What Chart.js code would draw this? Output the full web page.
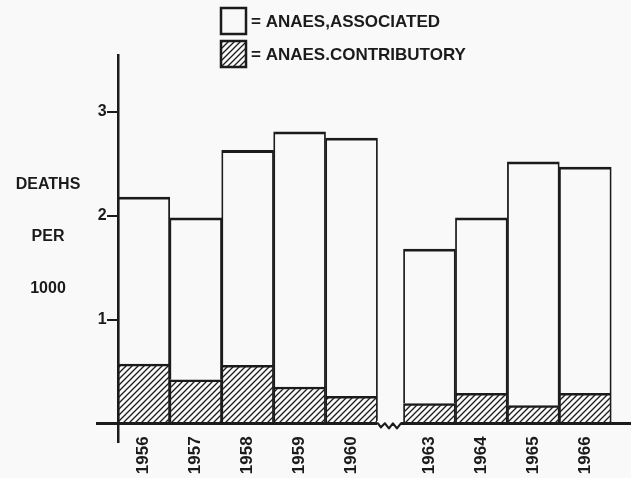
<!DOCTYPE html>
<html><head><meta charset="utf-8">
<script src="https://cdn.jsdelivr.net/npm/chart.js@4/dist/chart.umd.min.js"></script>
<style>html,body{margin:0;padding:0;background:#f9f9f9;}canvas{display:block}</style>
</head><body>
<canvas id="c" width="631" height="478"></canvas>
<script>
// ---- data ----
const years = [1956, 1957, 1958, 1959, 1960, 1963, 1964, 1965, 1966];
const contributory = [0.57, 0.42, 0.56, 0.35, 0.26, 0.19, 0.29, 0.17, 0.29];
const associated   = [1.61, 1.56, 2.07, 2.46, 2.49, 1.49, 1.69, 2.35, 2.18];
const yTicks = [1, 2, 3];
const yTitleLines = ['DEATHS', 'PER', '1000'];
const legendLabels = ['= ANAES,ASSOCIATED', '= ANAES.CONTRIBUTORY'];
const lastBeforeBreak = 1960, firstAfterBreak = 1963;

// ---- styling ----
const INK = '#1b1b1b', BG = '#f9f9f9';
const FONT = '"Liberation Sans", Arial, sans-serif';
// broken axis: the missing years are compressed to half a slot
const BREAK_SQUEEZE = (firstAfterBreak - lastBeforeBreak - 1) - 0.5;
const xOf = y => (y - years[0]) - (y > lastBeforeBreak ? BREAK_SQUEEZE : 0);

const canvas = document.getElementById('c');
const ctx = canvas.getContext('2d');

function hatchPattern() {
  const s = 6, c = document.createElement('canvas');
  c.width = s; c.height = s;
  const g = c.getContext('2d');
  g.fillStyle = BG; g.fillRect(0, 0, s, s);
  g.strokeStyle = INK; g.lineWidth = 1.3; g.lineCap = 'square';
  g.beginPath();
  g.moveTo(0, s); g.lineTo(s, 0);
  g.moveTo(-1, 1); g.lineTo(1, -1);
  g.moveTo(s - 1, s + 1); g.lineTo(s + 1, s - 1);
  g.stroke();
  return ctx.createPattern(c, 'repeat');
}
const HATCH = hatchPattern();

const yTitlePlugin = {
  id: 'yTitle',
  afterDraw(chart) {
    const y = chart.scales.y, c = chart.ctx;
    const at = [2.3, 1.8, 1.3];
    c.save();
    c.fillStyle = INK; c.font = 'bold 16px ' + FONT;
    c.textAlign = 'center'; c.textBaseline = 'middle';
    yTitleLines.forEach((t, i) => c.fillText(t, 48, y.getPixelForValue(at[i])));
    c.restore();
  }
};

const legendPlugin = {
  id: 'boxLegend',
  afterDraw(chart) {
    const c = chart.ctx;
    const fills = [chart.data.datasets[1].backgroundColor, chart.data.datasets[0].backgroundColor];
    const x0 = 221, tops = [8, 41], w = 25, h = 26;
    c.save();
    legendLabels.forEach((t, i) => {
      c.fillStyle = fills[i];
      c.fillRect(x0, tops[i], w, h);
      c.strokeStyle = INK; c.lineWidth = 2.5;
      c.strokeRect(x0, tops[i], w, h);
      c.fillStyle = INK; c.font = 'bold 17px ' + FONT;
      c.textAlign = 'left'; c.textBaseline = 'middle';
      c.fillText(t, x0 + w + 5, tops[i] + h / 2 + 1);
    });
    c.restore();
  }
};

const breakPlugin = {
  id: 'axisBreak',
  afterDraw(chart) {
    const xs = chart.scales.x, ys = chart.scales.y, c = chart.ctx;
    const cx = xs.getPixelForValue((xOf(lastBeforeBreak) + xOf(firstAfterBreak)) / 2 - 0.03);
    const y0 = ys.getPixelForValue(0);
    c.save();
    c.fillStyle = BG;
    c.fillRect(cx - 12, y0 - 2.5, 24, 5);
    c.strokeStyle = INK; c.lineWidth = 2.2; c.lineJoin = 'round';
    const pts = [[-16, 0], [-11, 0], [-8, 4], [-4, 0], [0, 5], [4, 0], [8, 5], [12, 0], [16, 0]];
    c.beginPath();
    pts.forEach((p, i) => i ? c.lineTo(cx + p[0], y0 + p[1]) : c.moveTo(cx + p[0], y0 + p[1]));
    c.stroke();
    c.restore();
  }
};

new Chart(ctx, {
  type: 'bar',
  data: {
    datasets: [
      {
        label: legendLabels[1],
        data: years.map((yr, i) => ({ x: xOf(yr), y: contributory[i] })),
        backgroundColor: HATCH, borderColor: INK,
        borderWidth: { top: 2.5, left: 1.8, right: 1.8, bottom: 0 },
        borderSkipped: false, barPercentage: 1, categoryPercentage: 1
      },
      {
        label: legendLabels[0],
        data: years.map((yr, i) => ({ x: xOf(yr), y: associated[i] })),
        backgroundColor: BG, borderColor: INK,
        borderWidth: { top: 2.8, left: 1.8, right: 1.8, bottom: 0 },
        borderSkipped: false, barPercentage: 1, categoryPercentage: 1
      }
    ]
  },
  options: {
    responsive: false, animation: false, devicePixelRatio: 1,
    layout: { padding: { left: 97, right: 0, top: 55, bottom: 36 } },
    plugins: { legend: { display: false }, tooltip: { enabled: false } },
    scales: {
      x: {
        type: 'linear', stacked: true, offset: false,
        min: -0.9, max: 9.38,
        position: { y: 0 },
        afterBuildTicks: s => { s.ticks = years.map(yr => ({ value: xOf(yr) })); },
        ticks: {
          autoSkip: false, minRotation: 90, maxRotation: 90, padding: 13,
          color: INK, font: { family: FONT, size: 17, weight: 'bold' },
          callback: (v, i) => String(years[i])
        },
        grid: { drawOnChartArea: false, drawTicks: false, offset: false },
        border: { color: INK, width: 3, z: 1 }
      },
      y: {
        stacked: true, min: -0.18, max: 3.55,
        position: { x: -0.5 },
        afterBuildTicks: s => { s.ticks = yTicks.map(v => ({ value: v })); },
        ticks: {
          padding: 1, color: INK, font: { family: FONT, size: 16, weight: 'bold' },
          // positioned axes put the label flush against the axis line; pad with spaces
          callback: v => String(v) + '\u2002\u2009'
        },
        grid: { drawOnChartArea: false, drawTicks: true, tickLength: 10, color: INK, lineWidth: 2 },
        border: { color: INK, width: 2.5, z: 1 }
      }
    }
  },
  plugins: [yTitlePlugin, legendPlugin, breakPlugin]
});
</script>
</body></html>
